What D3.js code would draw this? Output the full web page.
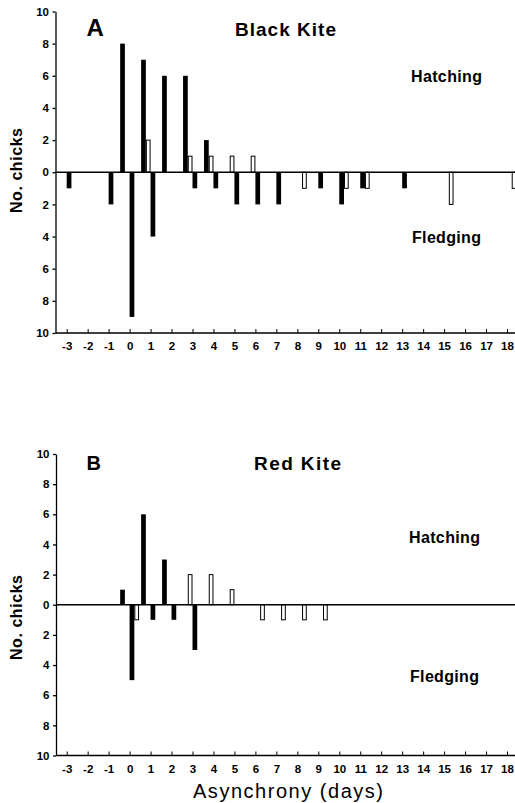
<!DOCTYPE html>
<html>
<head>
<meta charset="utf-8">
<script src="https://cdn.jsdelivr.net/npm/d3@7"></script>
<style>
body { margin: 0; background: #fff; }
text { font-family: "Liberation Sans", Arial, Helvetica, sans-serif; fill: #000; }
</style>
</head>
<body>
<svg id="chart" width="515" height="803"></svg>
<script>

// tick values on both axes
let xTicks = [-3,-2,-1,0,1,2,3,4,5,6,7,8,9,10,11,12,13,14,15,16,17,18];
let yTicks = [-10,-8,-6,-4,-2,0,2,4,6,8,10];

// Black Kite : [asynchrony day, no. chicks]
let blackHatchDark  = [[0,8],[1,7],[2,6],[3,6],[4,2]];
let blackHatchOpen  = [[1,2],[3,1],[4,1],[5,1],[6,1]];
let blackFledgeDark = [[-3,1],[-1,2],[0,9],[1,4],[3,1],[4,1],[5,2],[6,2],[7,2],[9,1],[10,2],[11,1],[13,1]];
let blackFledgeOpen = [[8,1],[10,1],[11,1],[15,2],[18,1]];

// Red Kite
let redHatchDark  = [[0,1],[1,6],[2,3]];
let redHatchOpen  = [[3,2],[4,2],[5,1]];
let redFledgeDark = [[0,5],[1,1],[2,1],[3,3]];
let redFledgeOpen = [[0,1],[6,1],[7,1],[8,1],[9,1]];

let svg = d3.select("#chart");

let xScale = d3.scaleLinear().domain([-3, 18]).range([66.7, 507]);

// width of one bar, a bit under a quarter of a day
let w = (xScale(1) - xScale(0)) * 0.225;

let panels = [
    {letter: "A", letterSize: 24, title: "Black Kite", titleX: 235, titleSize: 19, titleLen: 101, titleY: 36,
     yRange: [333, 11.5], axisX: 55.5, hatchY: 81.5, fledgeY: 242.5, hatchX: 411, fledgeX: 412, labelY: 170.5,
     hd: blackHatchDark, ho: blackHatchOpen, fd: blackFledgeDark, fo: blackFledgeOpen},
    {letter: "B", letterSize: 20, title: "Red Kite", titleX: 254, titleSize: 19, titleLen: 87, titleY: 469.5,
     yRange: [755.5, 454], axisX: 56, hatchY: 543, fledgeY: 681.5, hatchX: 409, fledgeX: 410, labelY: 617.5,
     hd: redHatchDark, ho: redHatchOpen, fd: redFledgeDark, fo: redFledgeOpen}
];

panels.forEach(function(p) { render(p); });

function render(p) {
    let yScale = d3.scaleLinear().domain([-10, 10]).range(p.yRange);
    let g = svg.append("g");

    // bars: hatching sits left of the tick, fledging right of it
    function bars(data, sign, offset, open) {
        g.selectAll(null)
            .data(data)
            .enter().append("rect")
            .attr("x", function(d) { return xScale(d[0]) + offset * w + (open ? 0.5 : 0); })
            .attr("width", open ? w - 1 : w)
            .attr("y", function(d) { return Math.min(yScale(sign * d[1]), yScale(0)); })
            .attr("height", function(d) { return Math.abs(yScale(sign * d[1]) - yScale(0)); })
            .style("fill", open ? "#fff" : "#000")
            .style("stroke", open ? "#000" : "none")
            .style("stroke-width", 1);
    }
    bars(p.hd, 1, -2, false);
    bars(p.ho, 1, -1, true);
    bars(p.fd, -1, 0, false);
    bars(p.fo, -1, 1, true);

    // zero line
    g.append("line")
        .attr("x1", p.axisX).attr("x2", 515)
        .attr("y1", yScale(0)).attr("y2", yScale(0))
        .style("stroke", "#000").style("stroke-width", 1.3);

    // y axis, counts shown as positive both ways
    let yAxis = g.append("g")
        .attr("transform", "translate(" + p.axisX + ",0)")
        .call(d3.axisLeft(yScale).tickValues(yTicks).tickSize(3).tickSizeOuter(0).tickPadding(3.5)
            .tickFormat(function(d) { return Math.abs(d); }));
    yAxis.selectAll("path, line").style("stroke", "#000").style("stroke-width", 1.3);
    yAxis.selectAll("text").style("font-size", "11.5px").style("font-weight", "bold")
        .style("font-family", '"Liberation Sans", Arial, sans-serif');

    // x axis, ticks pointing up into the plot
    let xAxis = g.append("g")
        .attr("transform", "translate(0," + yScale(-10) + ")")
        .call(d3.axisBottom(xScale).tickValues(xTicks).tickSize(-4).tickSizeOuter(0).tickPadding(9)
            .tickFormat(function(d) { return String(d); }));
    xAxis.select(".domain").remove();
    xAxis.selectAll("line").style("stroke", "#000").style("stroke-width", 1);
    xAxis.selectAll("text").style("font-size", "11.5px").style("font-weight", "bold")
        .style("font-family", '"Liberation Sans", Arial, sans-serif');
    g.append("line")
        .attr("x1", p.axisX).attr("x2", 515)
        .attr("y1", yScale(-10)).attr("y2", yScale(-10))
        .style("stroke", "#000").style("stroke-width", 1.3);

    // labels
    g.append("text").attr("x", 86.5).attr("y", p.titleY)
        .style("font-size", p.letterSize + "px").style("font-weight", "bold").text(p.letter);
    g.append("text").attr("x", p.titleX).attr("y", p.titleY)
        .attr("textLength", p.titleLen).attr("lengthAdjust", "spacing")
        .style("font-size", p.titleSize + "px").style("font-weight", "bold").text(p.title);
    g.append("text").attr("x", p.hatchX).attr("y", p.hatchY)
        .attr("textLength", 71).attr("lengthAdjust", "spacing")
        .style("font-size", "16px").style("font-weight", "bold").text("Hatching");
    g.append("text").attr("x", p.fledgeX).attr("y", p.fledgeY)
        .attr("textLength", 69).attr("lengthAdjust", "spacing")
        .style("font-size", "16px").style("font-weight", "bold").text("Fledging");
    g.append("text")
        .attr("transform", "translate(21.5," + p.labelY + ") rotate(-90)")
        .attr("text-anchor", "middle")
        .attr("textLength", 85).attr("lengthAdjust", "spacing")
        .style("font-size", "16px").style("font-weight", "bold").text("No. chicks");
}

svg.append("text")
    .attr("x", 193).attr("y", 798)
    .attr("textLength", 190).attr("lengthAdjust", "spacing")
    .style("font-size", "20px").text("Asynchrony (days)");

</script>
</body>
</html>
